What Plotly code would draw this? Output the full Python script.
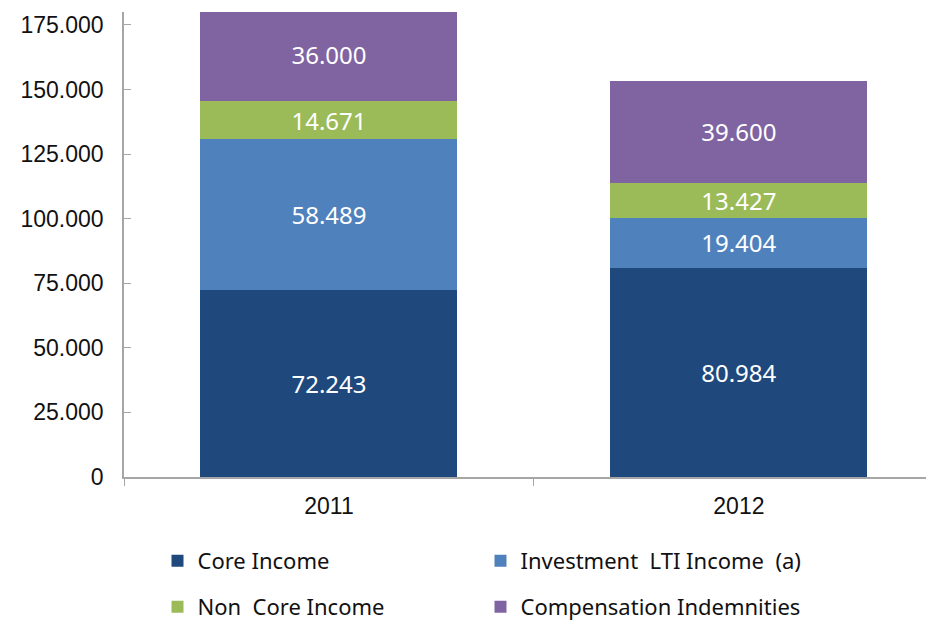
import plotly.graph_objects as go

years = ["2011", "2012"]
core_income = [72243, 80984]
investment_lti = [58489, 19404]
non_core_income = [14671, 13427]
compensation = [36000, 39600]

series_names = ["Core Income", "Investment\u00a0 LTI Income\u00a0 (a)",
                "Non\u00a0 Core Income", "Compensation Indemnities"]
series_values = [core_income, investment_lti, non_core_income, compensation]
series_colors = ["#1F497D", "#4F81BD", "#9BBB59", "#8064A2"]
series_legends = ["legend", "legend", "legend2", "legend2"]

y_ticks = [0, 25000, 50000, 75000, 100000, 125000, 150000, 175000]

# page has an 8px body margin; figure sized to fill the rest of the window
W, H = 926, 613

fig = go.Figure()
for name, vals, col, lg in zip(series_names, series_values, series_colors, series_legends):
    fig.add_trace(go.Bar(
        x=years, y=vals, name=name, marker=dict(color=col, line=dict(width=0)),
        texttemplate="%{y:,.0f}", textposition="inside", insidetextanchor="middle",
        constraintext="none", cliponaxis=True,
        textfont=dict(family="Noto Sans", size=24, color="white"),
        legend=lg, hoverinfo="skip",
    ))

legend_common = dict(
    orientation="h", xref="container", yref="container", xanchor="left",
    yanchor="middle", entrywidth=278, entrywidthmode="pixels",
    font=dict(family="Noto Sans", size=22, color="#111111"),
    bgcolor="rgba(0,0,0,0)", itemwidth=30, traceorder="normal",
)

fig.update_layout(
    width=W, height=H,
    margin=dict(l=116, r=0, t=4, b=144, pad=0, autoexpand=False),
    paper_bgcolor="white", plot_bgcolor="white",
    barmode="stack", bargap=0.373,
    separators=",.",
    font=dict(family="Liberation Sans, Arial", size=23, color="#111111"),
    showlegend=True,
    legend=dict(**legend_common, x=149.5 / W, y=1 - (561 - 8) / H),
    legend2=dict(**legend_common, x=149.5 / W, y=1 - (607 - 8) / H),
    xaxis=dict(
        type="category", range=[-0.5, 1.476], showgrid=False,
        showline=True, linecolor="#A6A6A6", linewidth=1.5,
        ticks="outside", tickson="boundaries", ticklen=7, tickcolor="#A6A6A6",
        tickfont=dict(size=23), zeroline=False, ticklabelstandoff=8,
    ),
    yaxis=dict(
        range=[0, 180000], tickvals=y_ticks, tickformat=",d",
        showgrid=False, zeroline=False,
        showline=True, linecolor="#A6A6A6", linewidth=1.5,
        ticks="inside", ticklen=7, tickcolor="#A6A6A6",
        tickfont=dict(size=23), ticklabelstandoff=14,
    ),
)

fig.write_html("out.html")
